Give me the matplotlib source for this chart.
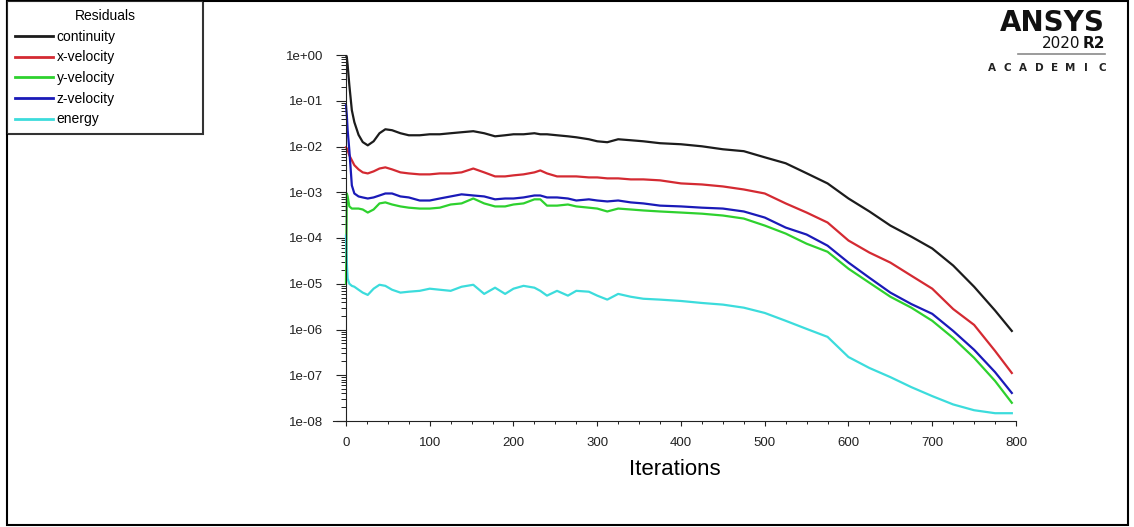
import matplotlib
matplotlib.use('Agg')
import matplotlib.pyplot as plt
import matplotlib.patches as mpatches
from matplotlib.ticker import FixedLocator, MultipleLocator, LogLocator, NullFormatter, FuncFormatter

# iteration grid shared by all residual series
iters = [0, 1, 2, 4, 7, 10, 15, 20, 26, 33, 40, 47, 55, 65, 75, 88, 100, 112, 125, 138,
         152, 165, 178, 190, 200, 212, 225, 232, 240, 252, 265, 275, 290, 300, 312, 325,
         340, 355, 375, 400, 425, 450, 475, 500, 525, 550, 575, 600, 625, 650, 675, 700,
         725, 750, 775, 795]

continuity = [1.0, 0.90, 0.60, 0.22, 0.062, 0.034, 0.018, 0.0125, 0.0106, 0.013, 0.0195,
              0.0238, 0.0227, 0.0195, 0.0176, 0.0176, 0.0185, 0.0185, 0.0195, 0.0205,
              0.0216, 0.0195, 0.0167, 0.0176, 0.0185, 0.0185, 0.0195, 0.0185, 0.0185,
              0.0176, 0.0167, 0.0159, 0.0144, 0.0130, 0.0124, 0.0144, 0.0137, 0.0130,
              0.0118, 0.0112, 0.0101, 0.0087, 0.0079, 0.0058, 0.0043, 0.0026, 0.00156,
              7.3e-4, 3.8e-4, 1.87e-4, 1.07e-4, 5.9e-5, 2.5e-5, 8.6e-6, 2.6e-6, 9.3e-7]

x_velocity = [9.6e-3, 9.1e-3, 8.3e-3, 6.4e-3, 5.0e-3, 3.9e-3, 3.16e-3, 2.72e-3, 2.58e-3,
              2.86e-3, 3.3e-3, 3.5e-3, 3.16e-3, 2.72e-3, 2.58e-3, 2.46e-3, 2.46e-3, 2.58e-3,
              2.58e-3, 2.72e-3, 3.3e-3, 2.72e-3, 2.22e-3, 2.22e-3, 2.34e-3, 2.46e-3, 2.72e-3,
              3.0e-3, 2.58e-3, 2.22e-3, 2.22e-3, 2.22e-3, 2.11e-3, 2.11e-3, 2.01e-3, 2.01e-3,
              1.91e-3, 1.91e-3, 1.82e-3, 1.56e-3, 1.48e-3, 1.34e-3, 1.15e-3, 9.4e-4, 5.7e-4,
              3.6e-4, 2.18e-4, 8.8e-5, 4.8e-5, 2.9e-5, 1.5e-5, 7.8e-6, 2.8e-6, 1.26e-6,
              3.4e-7, 1.12e-7]

y_velocity = [1.0e-5, 9.4e-4, 8.1e-4, 4.9e-4, 4.4e-4, 4.4e-4, 4.4e-4, 4.2e-4, 3.6e-4,
              4.2e-4, 5.7e-4, 6.0e-4, 5.4e-4, 4.9e-4, 4.6e-4, 4.4e-4, 4.4e-4, 4.6e-4,
              5.4e-4, 5.7e-4, 7.3e-4, 5.7e-4, 4.9e-4, 4.9e-4, 5.4e-4, 5.7e-4, 7.0e-4,
              7.0e-4, 5.1e-4, 5.1e-4, 5.4e-4, 4.9e-4, 4.6e-4, 4.4e-4, 3.8e-4, 4.4e-4,
              4.2e-4, 4.0e-4, 3.8e-4, 3.6e-4, 3.4e-4, 3.1e-4, 2.66e-4, 1.87e-4, 1.25e-4,
              7.5e-5, 5.0e-5, 2.13e-5, 1.05e-5, 5.2e-6, 3.0e-6, 1.55e-6, 6.5e-7, 2.4e-7,
              7.5e-8, 2.5e-8]

z_velocity = [0.080, 0.048, 0.0227, 8.3e-3, 1.41e-3, 9.4e-4, 8.1e-4, 7.7e-4, 7.3e-4,
              7.7e-4, 8.5e-4, 9.4e-4, 9.4e-4, 8.1e-4, 7.7e-4, 6.6e-4, 6.6e-4, 7.3e-4,
              8.1e-4, 9.0e-4, 8.5e-4, 8.1e-4, 7.0e-4, 7.3e-4, 7.3e-4, 7.7e-4, 8.5e-4,
              8.5e-4, 7.7e-4, 7.7e-4, 7.3e-4, 6.6e-4, 7.0e-4, 6.6e-4, 6.3e-4, 6.6e-4,
              6.0e-4, 5.7e-4, 5.1e-4, 4.9e-4, 4.6e-4, 4.4e-4, 3.8e-4, 2.8e-4, 1.69e-4,
              1.19e-4, 6.8e-5, 2.9e-5, 1.35e-5, 6.4e-6, 3.6e-6, 2.2e-6, 9.3e-7, 3.6e-7,
              1.17e-7, 4.1e-8]

energy = [1.13e-4, 2.9e-5, 1.3e-5, 1.0e-5, 9.0e-6, 8.6e-6, 7.4e-6, 6.4e-6, 5.7e-6,
          7.8e-6, 9.5e-6, 9.0e-6, 7.4e-6, 6.4e-6, 6.7e-6, 7.0e-6, 7.8e-6, 7.4e-6,
          7.0e-6, 8.6e-6, 9.5e-6, 6.0e-6, 8.2e-6, 6.0e-6, 7.8e-6, 9.0e-6, 8.2e-6,
          7.0e-6, 5.5e-6, 7.0e-6, 5.5e-6, 7.0e-6, 6.7e-6, 5.5e-6, 4.5e-6, 6.0e-6,
          5.2e-6, 4.7e-6, 4.5e-6, 4.2e-6, 3.8e-6, 3.5e-6, 3.0e-6, 2.3e-6, 1.55e-6,
          1.03e-6, 6.9e-7, 2.5e-7, 1.44e-7, 9.1e-8, 5.5e-8, 3.5e-8, 2.3e-8, 1.72e-8,
          1.48e-8, 1.48e-8]

series = [
    ("continuity", continuity, "#1c1c1c"),
    ("x-velocity", x_velocity, "#d42a32"),
    ("y-velocity", y_velocity, "#2ed12e"),
    ("z-velocity", z_velocity, "#1a1ab8"),
    ("energy",     energy,     "#3cdcdc"),
]

x_ticks = [0, 100, 200, 300, 400, 500, 600, 700, 800]
y_ticks = [1e-8, 1e-7, 1e-6, 1e-5, 1e-4, 1e-3, 1e-2, 1e-1, 1e0]

W, H = 1134, 527
plt.rcParams.update({"font.family": ["Liberation Sans", "DejaVu Sans"]})

fig = plt.figure(figsize=(W / 100, H / 100), dpi=100)
ax = fig.add_axes([333 / W, 1 - 421 / H, (1016 - 333) / W, (421 - 55) / H])

lines = []
for name, vals, col in series:
    ln, = ax.plot(iters, vals, color=col, linewidth=1.6, label=name)
    lines.append(ln)

ax.set_yscale("log")
ax.set_ylim(1e-8, 1e0)
ax.set_xlim(-15.5, 800)

for s in ("top", "right"):
    ax.spines[s].set_visible(False)
ax.spines["left"].set_position(("data", 0))
ax.spines["left"].set_color("#222")
ax.spines["bottom"].set_color("#222")

ax.xaxis.set_major_locator(FixedLocator(x_ticks))
ax.xaxis.set_minor_locator(MultipleLocator(25))
ax.yaxis.set_major_locator(FixedLocator(y_ticks))
ax.yaxis.set_minor_locator(LogLocator(base=10, subs=range(2, 10), numticks=20))
ax.yaxis.set_minor_formatter(NullFormatter())
ax.yaxis.set_major_formatter(FuncFormatter(lambda v, p: f"{v:.0e}"))

ax.tick_params(axis="y", which="major", length=7.2, width=0.8, pad=9,
               labelsize=9.5, colors="#222")
ax.tick_params(axis="y", which="minor", length=3.6, width=0.7, colors="#222")
ax.tick_params(axis="x", which="major", length=3.5, width=0.8, pad=8,
               labelsize=9.5, colors="#222")
ax.tick_params(axis="x", which="minor", length=2, width=0.7, colors="#222")

ax.set_xlabel("Iterations", fontsize=16, labelpad=7)

# legend box in the top-left corner
leg = fig.legend(handles=lines, loc="upper left",
                 bbox_to_anchor=(7 / W, 1 - 128 / H, 196 / W, 127 / H),
                 mode="expand", borderaxespad=0, title="Residuals",
                 fontsize=10, title_fontsize=10, handlelength=2.7,
                 handletextpad=0.3, labelspacing=0.48, borderpad=0.58,
                 fancybox=False, frameon=True)
leg.get_frame().set_edgecolor("black")
leg.get_frame().set_linewidth(1.5)
for ln in leg.get_lines():
    ln.set_linewidth(2)

# ANSYS logo text, top right
fig.text(1105 / W, 1 - 23 / H, "ANSYS", ha="right", va="center",
         fontsize=20, fontweight="bold", family="DejaVu Sans", color="#111")
fig.text(1105 / W, 1 - 44 / H, "R2", ha="right", va="center",
         fontsize=11, fontweight="bold", family="DejaVu Sans", color="#111")
fig.text(1080 / W, 1 - 44 / H, "2020", ha="right", va="center",
         fontsize=11, family="DejaVu Sans", color="#111")
fig.add_artist(plt.Line2D([1018 / W, 1105 / W], [1 - 54 / H, 1 - 54 / H],
                          color="#8a8a8a", linewidth=1.2))
for i, ch in enumerate("ACADEMIC"):
    fig.text((992 + i * 15.7) / W, 1 - 68 / H, ch, ha="center", va="center",
             fontsize=7.5, fontweight="bold", family="DejaVu Sans", color="#222")

# outer frame
fig.add_artist(mpatches.Rectangle((7 / W, 2 / H), (1128 - 7) / W, (526 - 2) / H,
                                  fill=False, edgecolor="black", linewidth=1.5))

fig.savefig("out.png", dpi=100)
